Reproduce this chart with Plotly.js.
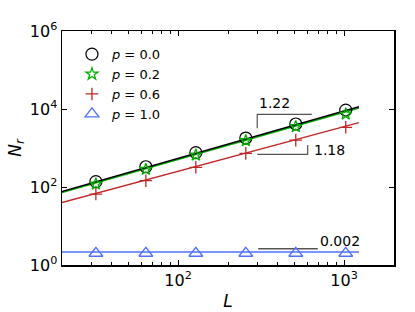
<!DOCTYPE html>
<html><head><meta charset="utf-8">
<script src="https://cdn.plot.ly/plotly-3.0.1.min.js"></script>
<style>html,body{margin:0;padding:0;background:#fff}#plot{width:415px;height:312px}</style>
</head><body><div id="plot"></div>
<script>
const L = [32, 64, 128, 256, 512, 1024];
const N_p00 = [137, 331, 760, 1800, 4120, 9400];
const N_p02 = [119, 283, 660, 1540, 3530, 7430];
const N_p06 = [66, 145, 320, 730, 1590, 3390];
const N_p10 = [2.0, 2.0, 2.0, 2.0, 2.0, 2.0];
const fitX = [20, 1230];
const fit_p00 = [76, 11400];
const fit_p02 = [72, 10600];
const fit_p06 = [40, 4500];
const fit_p10 = [2.15, 2.17];
const seriesNames = ['<i>p</i> = 0.0', '<i>p</i> = 0.2', '<i>p</i> = 0.6', '<i>p</i> = 1.0'];
const slopeLabels = ['1.22', '1.18', '0.002'];
const guide122X = [300, 300, 640], guide122Y = [3200, 7310, 7310];
const guide118X = [300, 604, 604], guide118Y = [690, 690, 1190];
const guide0002X = [304, 695], guide0002Y = [2.6, 2.6];

const cBlack = '#000000', cGreen = '#00b000', cRed = '#c02828', cBlue = '#5070ff', cGuide = '#555555';
function line(x, y, color, w) {
  return {x: x, y: y, mode: 'lines', line: {color: color, width: w}, showlegend: false, hoverinfo: 'skip'};
}
function pts(y, name, sym, color, size, lw) {
  return {x: L, y: y, name: name, mode: 'markers', marker: {symbol: sym, size: size, color: color, line: {color: color, width: lw}}};
}
const data = [
  line(fitX, fit_p10, cBlue, 1.5),
  line(fitX, fit_p06, cRed, 1.3),
  line(fitX, fit_p02, cGreen, 1.5),
  line(fitX, fit_p00, cBlack, 1.5),
  line(guide122X, guide122Y, cGuide, 1.2),
  line(guide118X, guide118Y, cGuide, 1.2),
  line(guide0002X, guide0002Y, cGuide, 1.5),
  pts(N_p00, seriesNames[0], 'circle-open', cBlack, 12, 1.2),
  pts(N_p02, seriesNames[1], 'star-open', cGreen, 9, 1.3),
  pts(N_p06, seriesNames[2], 'cross-thin-open', cRed, 9, 1.3),
  pts(N_p10, seriesNames[3], 'triangle-up-open', cBlue, 12, 1.3)
];
const minorX = [30,40,50,60,70,80,90,200,300,400,500,600,700,800,900];
const layout = {
  width: 415, height: 312,
  margin: {l: 62, r: 21, t: 31, b: 47},
  paper_bgcolor: '#fff', plot_bgcolor: '#fff',
  font: {family: 'DejaVu Sans', size: 13, color: '#000'},
  showlegend: true,
  legend: {x: 0.03, y: 0.965, xanchor: 'left', yanchor: 'top', bgcolor: 'rgba(0,0,0,0)', font: {size: 13}, tracegroupgap: 0, itemwidth: 30},
  xaxis: {
    type: 'log', range: [Math.log10(20), Math.log10(2000)],
    tickvals: [100, 1000], ticktext: ['10<sup>2</sup>', '10<sup>3</sup>'],
    ticks: 'inside', ticklen: 5, tickwidth: 1, tickcolor: '#000',
    minor: {tickvals: minorX, ticks: 'inside', ticklen: 3, tickwidth: 1, tickcolor: '#000', showgrid: false},
    showline: true, linecolor: '#000', linewidth: 1.5, mirror: 'ticks',
    showgrid: false, zeroline: false,
    tickfont: {size: 16},
    title: {text: '<i>L</i>', font: {size: 17}, standoff: 6}
  },
  yaxis: {
    type: 'log', range: [0, 6],
    tickvals: [1, 100, 10000, 1000000], ticktext: ['10<sup>0</sup>', '10<sup>2</sup>', '10<sup>4</sup>', '10<sup>6</sup>'],
    ticks: 'inside', ticklen: 5, tickwidth: 1, tickcolor: '#000',
    showline: true, linecolor: '#000', linewidth: 1.5, mirror: 'ticks',
    showgrid: false, zeroline: false,
    tickfont: {size: 16},
    title: {text: '<i>N<sub>r</sub></i>', font: {size: 17}, standoff: 4}
  },
  annotations: [
    {x: Math.log10(300), y: Math.log10(7310), xref: 'x', yref: 'y', text: slopeLabels[0], showarrow: false, xanchor: 'left', yanchor: 'bottom', yshift: 1, font: {size: 14}},
    {x: Math.log10(604), y: Math.log10(690), xref: 'x', yref: 'y', text: slopeLabels[1], showarrow: false, xanchor: 'left', yanchor: 'middle', xshift: 4, yshift: 4, font: {size: 14}},
    {x: Math.log10(695), y: Math.log10(2.6), xref: 'x', yref: 'y', text: slopeLabels[2], showarrow: false, xanchor: 'left', yanchor: 'bottom', xshift: 0, yshift: -2, font: {size: 14}}
  ]
};
Plotly.newPlot('plot', data, layout, {staticPlot: true});
</script></body></html>
